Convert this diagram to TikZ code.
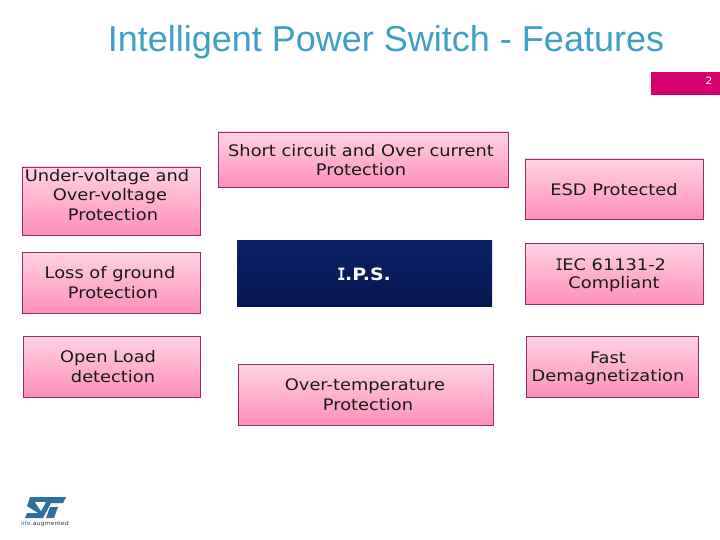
\documentclass[tikz,border=0pt]{standalone}
\usepackage{fontspec}
\setmainfont[FakeStretch=1.12]{DejaVu Sans}
\newfontfamily\titlefont{Liberation Sans}
\newfontfamily\monofnt[FakeStretch=0.8]{DejaVu Sans Mono}
\newcommand{\VI}{{\monofnt\kern-0.6pt I\kern-0.6pt}}
\tikzset{
  x=1pt,y=-1pt,
  pinkbox/.style={draw=boxedge,line width=0.8pt,top color=pinktop,bottom color=pinkbot,inner sep=0pt},
  navybox/.style={top color=navytop,bottom color=navybot,inner sep=0pt},
  boxtext/.style={font=\fontsize{15.9}{19}\selectfont,align=center,text=black!90,inner sep=0pt},
}
\definecolor{boxedge}{HTML}{8E2E70}
\definecolor{pinktop}{HTML}{FFD3E3}
\definecolor{pinkbot}{HTML}{FF8FB9}
\definecolor{navytop}{HTML}{0A2168}
\definecolor{navybot}{HTML}{05174F}
\definecolor{titleblue}{HTML}{3F9FC6}
\definecolor{pagemark}{HTML}{D6006F}
\definecolor{logoblue}{HTML}{2F6F9F}
\begin{document}
\begin{tikzpicture}
\useasboundingbox (0,0) rectangle (720,540);
\fill[white] (0,0) rectangle (720,540);
\node[text=titleblue,font=\titlefont\fontsize{36}{40}\selectfont,inner sep=0pt] (title) at (386,42.5) {Intelligent Power Switch - Features};
\fill[pagemark] (651,72) rectangle (720,95);
\node[text=white,font=\fontsize{10}{12}\selectfont,inner sep=0pt] (pagenum) at (709,81) {2};

\path[pinkbox] (22,167) rectangle (200,235);
\path[pinkbox] (22,252) rectangle (200,313);
\path[pinkbox] (23,336) rectangle (200,397);
\path[pinkbox] (218,132) rectangle (508,187);
\path[navybox] (237,240) rectangle (492,306);
\path[pinkbox] (238,364) rectangle (493,425);
\path[pinkbox] (525,159) rectangle (703,219);
\path[pinkbox] (525,243) rectangle (703,304);
\path[pinkbox] (526,336) rectangle (698,397);

\node[boxtext] (uv) at (107,177) {Under-voltage and};
\node[boxtext] (uv2) at (110,196) {Over-voltage};
\node[boxtext] (uv3) at (113,215) {Protection};
\node[boxtext] (lg) at (110,274) {Loss of ground};
\node[boxtext] (lg2) at (113,293) {Protection};
\node[boxtext] (ol) at (108,358) {Open Load};
\node[boxtext] (ol2) at (113,377) {detection};
\node[boxtext] (sc) at (361,151) {Short circuit and Over current};
\node[boxtext] (sc2) at (361,170) {Protection};
\node[boxtext,text=white,font=\bfseries\fontsize{17}{19}\selectfont] (ips) at (364.5,274) {\VI.P.S.};
\node[boxtext] (ot) at (365,386) {Over-temperature};
\node[boxtext] (ot2) at (368,405) {Protection};
\node[boxtext] (esd) at (614,190) {ESD Protected};
\node[boxtext] (iec) at (611,265) {\VI EC 61131-2};
\node[boxtext] (iec2) at (614,284) {Compliant};
\node[boxtext] (fd) at (608,358) {Fast};
\node[boxtext] (fd2) at (608,377) {Demagnetization};

% logo
\fill[logoblue] (30,497) -- (66,497) -- (63,503) -- (51,503) -- (43,518) -- (25,518) -- (27,513) -- (38,513) -- (27,506) -- (30,497) -- cycle;
\fill[white] (35,502) -- (46,502) -- (41,511) -- cycle;
\fill[logoblue] (50,507) -- (58,507) -- (54,518) -- (46,518) -- cycle;
\node[font=\fontsize{5.6}{7}\selectfont,text=black!75,inner sep=0pt] (logotext) at (45,524) {\textcolor{logoblue}{life}.augmented};
\end{tikzpicture}
\end{document}
